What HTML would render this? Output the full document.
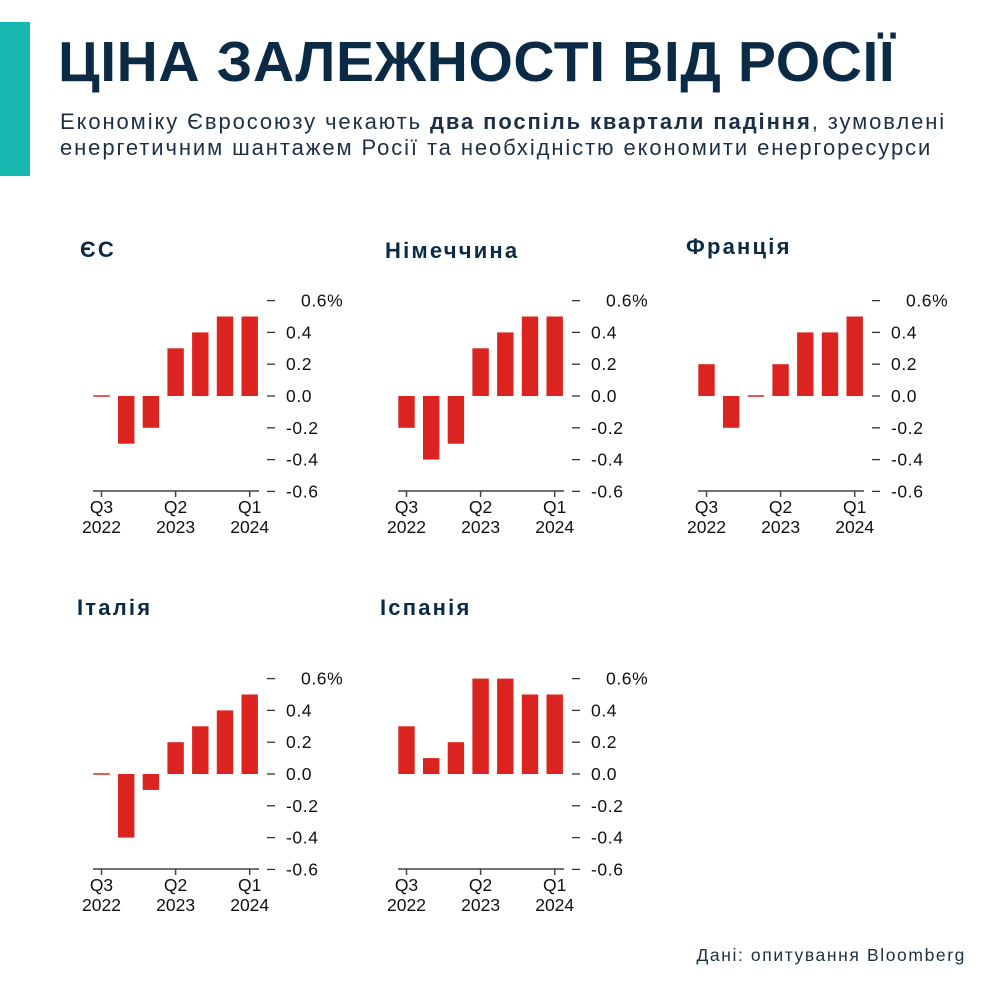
<!DOCTYPE html>
<html><head><meta charset="utf-8"><style>
body{margin:0;background:#fff;width:1000px;height:1000px;overflow:hidden;position:relative;font-family:"Liberation Sans",sans-serif;color:#0d2a44}
#bar{position:absolute;left:0;top:22px;width:30px;height:154px;background:#16b8b0}
#title{position:absolute;left:58px;top:29px;font-size:57px;font-weight:bold;letter-spacing:0.6px;color:#0b2a45;white-space:nowrap}
#sub{position:absolute;left:60px;top:109px;font-size:22px;letter-spacing:1.9px;line-height:26px;color:#1d2f45;white-space:nowrap}
#foot{position:absolute;right:34px;top:945px;font-size:17.5px;letter-spacing:1.6px;color:#1d2f45}
svg{position:absolute;left:0;top:0}
</style></head><body>
<div id="bar"></div>
<div id="title">ЦІНА ЗАЛЕЖНОСТІ ВІД РОСІЇ</div>
<div id="sub">Економіку Євросоюзу чекають <b>два поспіль квартали падіння</b>, зумовлені<br>енергетичним шантажем Росії та необхідністю економити енергоресурси</div>
<div id="foot">Дані: опитування Bloomberg</div>
<svg id="chart" width="1000" height="1000"></svg>
<script>
const panelNames = ["ЄС","Німеччина","Франція","Італія","Іспанія"];
const valuesEU = [0,-0.3,-0.2,0.3,0.4,0.5,0.5];
const valuesDE = [-0.2,-0.4,-0.3,0.3,0.4,0.5,0.5];
const valuesFR = [0.2,-0.2,0,0.2,0.4,0.4,0.5];
const valuesIT = [0,-0.4,-0.1,0.2,0.3,0.4,0.5];
const valuesES = [0.3,0.1,0.2,0.6,0.6,0.5,0.5];
const tickValues = [0.6,0.4,0.2,0.0,-0.2,-0.4,-0.6];
const tickLabels = ["0.6%","0.4","0.2","0.0","-0.2","-0.4","-0.6"];
const xTickIdx = [0,3,6];
const xTickQ = ["Q3","Q2","Q1"];
const xTickY = ["2022","2023","2024"];

const NS="http://www.w3.org/2000/svg";
const svg=document.getElementById('chart');
function mk(tag,attrs,parent){const e=document.createElementNS(NS,tag);for(const k in attrs)e.setAttribute(k,attrs[k]);(parent||svg).appendChild(e);return e;}
const series=[valuesEU,valuesDE,valuesFR,valuesIT,valuesES];
const layout=[[0,0,80,257],[305,0,385,258],[605,0,686,254],[0,378,77,615],[305,378,380,615]];
series.forEach((vals,p)=>{
  const [dx,dy,tx,ty]=layout[p];
  const g=mk('g',{});
  
  
  const y=v=>dy+396-v*159;
  const x=i=>dx+101.5+i*24.7;
  const t=mk('text',{x:tx,y:ty,'font-size':22,'font-weight':'bold','letter-spacing':2.2,fill:'#0b2a45'},g);
  t.textContent=panelNames[p];
  
  
  tickValues.forEach((v,i)=>{
    const l=mk('line',{x1:dx+267,x2:dx+275,y1:y(v),y2:y(v),stroke:'#333','stroke-width':1.3},g);
    
    
    const tt=mk('text',{x:dx+(i==0?301:286),y:y(v)+6,'font-size':17.5,'letter-spacing':0.6,fill:'#111'},g);
    tt.textContent=tickLabels[i];
    
    
  });
  const ax=mk('line',{x1:dx+93,x2:dx+259,y1:dy+491,y2:dy+491,stroke:'#444','stroke-width':1.5},g);
  
  
  xTickIdx.forEach((idx,k)=>{
    mk('line',{x1:x(idx),x2:x(idx),y1:dy+491,y2:dy+497,stroke:'#444','stroke-width':1.5},g);
    const a=mk('text',{x:x(idx),y:dy+513,'font-size':17.5,'text-anchor':'middle',fill:'#111'},g);
    a.textContent=xTickQ[k];
    
    
    const b=mk('text',{x:x(idx),y:dy+533,'font-size':17.5,'text-anchor':'middle',fill:'#111'},g);
    b.textContent=xTickY[k];
    
    
  });
  vals.forEach((v,i)=>{
    let top=Math.min(y(v),y(0)),h=Math.abs(y(v)-y(0));
    if(h<1.5){h=1.5;top=y(0)-0.75;}
    const r=mk('rect',{x:x(i)-8.2,y:top,width:16.4,height:h,fill:'#db231f'},g);
    
    
  });
});
</script>
</body></html>
